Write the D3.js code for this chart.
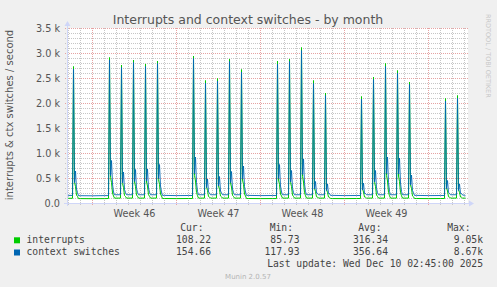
<!DOCTYPE html>
<html><head><meta charset="utf-8">
<script src="https://cdn.jsdelivr.net/npm/d3@7"></script>
<style>
html,body{margin:0;padding:0;background:#f0f0f0;}
svg{display:block;}
text{font-family:"DejaVu Sans",sans-serif;}
.mono{font-family:"DejaVu Sans Mono",monospace;}
</style></head><body>
<svg id="chart" width="497" height="287"></svg>
<script>
// ---------- data ----------
const title = "Interrupts and context switches - by month";
const yLabel = "interrupts & ctx switches / second";
const seriesNames = ["interrupts", "context switches"];
const seriesColors = ["#00CC00", "#0066B3"];
const yTicks = [0, 500, 1000, 1500, 2000, 2500, 3000, 3500];
const yTickLabels = ["0.0", "0.5 k", "1.0 k", "1.5 k", "2.0 k", "2.5 k", "3.0 k", "3.5 k"];
const weekLabels = ["Week 46", "Week 47", "Week 48", "Week 49"];
const weekMidDates = ["2025-11-12T12:00Z", "2025-11-19T12:00Z", "2025-11-26T12:00Z", "2025-12-03T12:00Z"];
const domainStart = "2025-11-06T22:00Z";
const domainEnd = "2025-12-10T06:00Z";

// daily baseline samples (00:00 UTC)
const baseDates = ["2025-11-06T22:00Z","2025-11-07","2025-11-08","2025-11-09","2025-11-10","2025-11-11","2025-11-12","2025-11-13","2025-11-14","2025-11-15","2025-11-16","2025-11-17","2025-11-18","2025-11-19","2025-11-20","2025-11-21","2025-11-22","2025-11-23","2025-11-24","2025-11-25","2025-11-26","2025-11-27","2025-11-28","2025-11-29","2025-11-30","2025-12-01","2025-12-02","2025-12-03","2025-12-04","2025-12-05","2025-12-06","2025-12-07","2025-12-08","2025-12-09","2025-12-10","2025-12-10T02:00Z"];
const interruptsBase = [104,104,98,96,98,108,108,108,108,100,98,100,108,108,108,108,100,98,99,108,108,108,108,99,98,100,108,108,108,108,100,98,100,108,108,108.22];
const ctxBase = [162,162,156,154,158,175,175,175,175,162,158,160,175,175,175,175,162,158,160,175,175,175,175,162,158,160,175,175,175,175,162,158,160,175,165,154.66];

// busy-hour spikes: samples at these hours of each spike day
const spikeHours = [8, 10, 12, 14, 16, 18, 20];
const spikeDates = ["2025-11-07","2025-11-10","2025-11-11","2025-11-12","2025-11-13","2025-11-14","2025-11-17","2025-11-18","2025-11-19","2025-11-20","2025-11-21","2025-11-24","2025-11-25","2025-11-26","2025-11-27","2025-11-28","2025-12-01","2025-12-02","2025-12-03","2025-12-04","2025-12-05","2025-12-08","2025-12-09"];
const interruptsSpikes = [
  [104,2740,420,340,170,140,98],
  [100,2920,520,420,210,150,108],
  [108,2770,400,320,160,140,108],
  [108,2870,430,340,170,145,108],
  [108,2790,430,350,175,145,108],
  [108,2850,480,380,190,150,100],
  [100,2950,560,450,220,155,108],
  [108,2460,330,260,140,130,108],
  [108,2500,350,280,150,135,108],
  [108,2890,410,330,165,140,108],
  [108,2680,470,380,190,150,100],
  [99,2850,470,380,190,150,108],
  [108,2890,420,340,170,140,108],
  [108,3120,540,430,215,155,108],
  [108,2460,300,240,135,130,108],
  [108,2210,280,220,130,125,100],
  [100,2140,290,230,130,125,108],
  [108,2530,420,340,170,140,108],
  [108,2800,560,450,220,155,108],
  [108,2660,550,440,220,155,108],
  [108,2430,370,300,150,135,100],
  [100,2100,310,250,135,130,108],
  [108,2160,280,220,130,125,108]
];
const ctxSpikes = [
  [162,2690,420,650,290,220,156],
  [158,2870,560,860,390,230,175],
  [175,2720,410,630,280,220,175],
  [175,2820,440,680,300,225,175],
  [175,2740,450,690,310,225,175],
  [175,2800,500,780,350,230,162],
  [160,2900,600,930,420,240,175],
  [175,2410,320,490,230,210,175],
  [175,2450,350,540,250,215,175],
  [175,2840,420,640,290,220,175],
  [175,2630,490,750,340,230,162],
  [160,2790,500,780,350,230,175],
  [175,2840,430,660,300,220,175],
  [175,3060,580,890,400,235,175],
  [175,2400,290,440,210,205,175],
  [175,2160,260,390,200,200,162],
  [160,2090,270,410,200,200,175],
  [175,2480,430,660,300,220,175],
  [175,2740,600,930,420,240,175],
  [175,2610,590,910,410,240,175],
  [175,2380,370,570,260,215,162],
  [160,2050,300,460,220,205,175],
  [175,2110,260,390,200,200,170]
];

const legendHeaders = ["Cur:", "Min:", "Avg:", "Max:"];
const interruptsStats = ["108.22", "85.73", "316.34", "9.05k"];
const ctxStats = ["154.66", "117.93", "356.64", "8.67k"];
const lastUpdate = "Last update: Wed Dec 10 02:45:00 2025";
const footer = "Munin 2.0.57";
const watermark = "RRDTOOL / TOBI OETIKER";

// ---------- build series ----------
function parseT(s){ return new Date(s.length === 10 ? s + "T00:00Z" : s); }
function buildSeries(base, spikes){
  const pts = baseDates.map((d,i)=>({t:parseT(d), v:base[i]}));
  spikeDates.forEach((d,i)=>{
    spikeHours.forEach((h,j)=>{
      const t = parseT(d); t.setUTCHours(h);
      pts.push({t, v:spikes[i][j]});
    });
  });
  pts.sort((a,b)=>a.t-b.t);
  return pts;
}
const interrupts = buildSeries(interruptsBase, interruptsSpikes);
const ctx = buildSeries(ctxBase, ctxSpikes);

// ---------- draw ----------
const svg = d3.select("#chart");
const L = 67, R = 467, T = 28, B = 203;
const x = d3.scaleUtc().domain([parseT(domainStart), parseT(domainEnd)]).range([L + 0.5, R + 0.5]);
const y = d3.scaleLinear().domain([0, 3500]).range([B + 0.5, T + 0.5]);

svg.append("rect").attr("x",0).attr("y",0).attr("width",497).attr("height",287).attr("fill","#f0f0f0");
svg.append("rect").attr("x",L).attr("y",T).attr("width",R-L+1).attr("height",B-T).attr("fill","#ffffff");

const minorCol = "#c6c6c6", majorCol = "#e6a3a3";
const g = svg.append("g");
// horizontal grid
d3.range(0, 3501, 100).forEach(v=>{
  const major = v % 500 === 0;
  if (v === 0) return;
  const yy = y(v);
  g.append("line").attr("x1",L-2).attr("x2",R+1).attr("y1",yy).attr("y2",yy)
    .attr("stroke", major?majorCol:minorCol).attr("stroke-dasharray","1,1").attr("stroke-width",1);
});
// vertical grid (daily, weeks on Sundays)
const days = d3.utcDay.range(parseT("2025-11-07"), parseT("2025-12-11"));
days.forEach(d=>{
  const xx = Math.floor(x(d)) + 0.5;
  if (xx > R + 1) return;
  const major = d.getUTCDay() === 0;
  g.append("line").attr("x1",xx).attr("x2",xx).attr("y1",T).attr("y2",B+3)
    .attr("stroke", major?majorCol:minorCol).attr("stroke-dasharray","1,1").attr("stroke-width",1);
});

// data lines
const line = d3.line().x(d=>x(d.t)).y(d=>y(d.v));
svg.append("path").datum(interrupts).attr("d",line).attr("fill","none").attr("stroke",seriesColors[0]).attr("stroke-width",1);
svg.append("path").datum(ctx).attr("d",line).attr("fill","none").attr("stroke",seriesColors[1]).attr("stroke-width",1).attr("stroke-opacity",0.9);

// axes (rrdtool style)
const axisCol = "#CFD6F8";
svg.append("line").attr("x1",L-3).attr("x2",R+3).attr("y1",B+0.5).attr("y2",B+0.5).attr("stroke",axisCol);
svg.append("line").attr("x1",L+0.5).attr("x2",L+0.5).attr("y1",B+3).attr("y2",T-3).attr("stroke",axisCol);
svg.append("path").attr("d",`M${R+2},${B-2.5}L${R+7},${B+0.5}L${R+2},${B+3.5}Z`).attr("fill",axisCol);
svg.append("path").attr("d",`M${L-2.5},${T-2}L${L+0.5},${T-7}L${L+3.5},${T-2}Z`).attr("fill",axisCol);

// y tick labels
yTicks.forEach((v,i)=>{
  svg.append("text").attr("x",60).attr("y",y(v)+3.5).attr("text-anchor","end")
    .attr("font-size",9.7).attr("fill","#555").text(yTickLabels[i]);
});
// x week labels
weekLabels.forEach((lab,i)=>{
  svg.append("text").attr("x",x(parseT(weekMidDates[i]))).attr("y",216.5).attr("text-anchor","middle")
    .attr("font-size",9.7).attr("fill","#555").text(lab);
});
// title
svg.append("text").attr("x",248).attr("y",24).attr("text-anchor","middle").attr("font-size",12.5)
  .attr("fill","#555").text(title);
// y label
svg.append("text").attr("transform","translate(13,115) rotate(-90)").attr("text-anchor","middle")
  .attr("font-size",10).attr("fill","#555").text(yLabel);
// watermark
svg.append("text").attr("transform","translate(485.5,14) rotate(90)").attr("text-anchor","start")
  .attr("font-size",6.5).attr("fill","#c8c8c8").text(watermark);

// legend
const lg = svg.append("g").attr("class","mono");
const headerX = [203.5, 293, 381.5, 470.5];
const valueX = [211, 299.5, 388, 483];
legendHeaders.forEach((h,i)=>{
  lg.append("text").attr("class","mono").attr("x",headerX[i]).attr("y",230.8).attr("text-anchor","end")
    .attr("font-size",9.7).attr("fill","#444").text(h);
});
[[interruptsStats,242.8],[ctxStats,255]].forEach(([stats,yy],k)=>{
  lg.append("rect").attr("x",14).attr("y",yy-5.5).attr("width",6).attr("height",6).attr("fill",seriesColors[k]);
  lg.append("text").attr("class","mono").attr("x",26.5).attr("y",yy).attr("font-size",9.7).attr("fill","#444").text(seriesNames[k]);
  stats.forEach((s,i)=>{
    lg.append("text").attr("class","mono").attr("x",valueX[i]).attr("y",yy).attr("text-anchor","end")
      .attr("font-size",9.7).attr("fill","#444").text(s);
  });
});
lg.append("text").attr("class","mono").attr("x",483).attr("y",266.8).attr("text-anchor","end")
  .attr("font-size",9.7).attr("fill","#444").text(lastUpdate);
svg.append("text").attr("x",248).attr("y",279).attr("text-anchor","middle").attr("font-size",7)
  .attr("fill","#b4b4b4").text(footer);
</script>
</body></html>
